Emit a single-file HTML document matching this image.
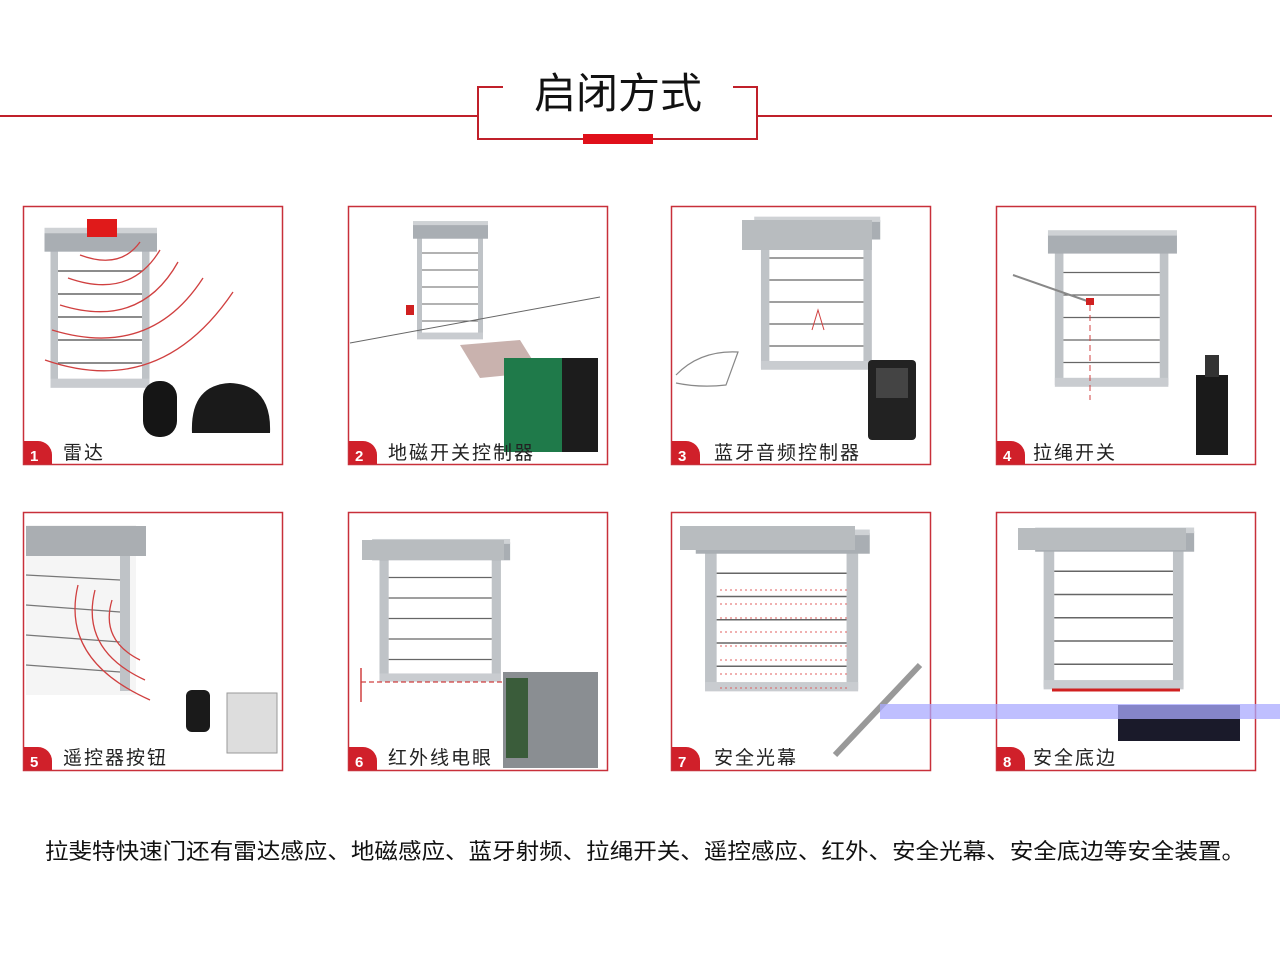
<!DOCTYPE html>
<html><head><meta charset="utf-8"><style>
body{margin:0;background:#fff;width:1280px;height:960px;overflow:hidden;font-family:"Liberation Sans","Noto Sans CJK SC",sans-serif}
</style></head><body>
<svg width="1280" height="960" xmlns="http://www.w3.org/2000/svg" font-family="Liberation Sans, Noto Sans CJK SC, sans-serif">
<defs>
<g id="door">
  <rect x="0" y="0" width="120" height="150" fill="#fff"/>
  <rect x="-6" y="0" width="10" height="150" fill="#bfc3c7"/>
  <rect x="116" y="0" width="10" height="150" fill="#bfc3c7"/>
  <rect x="-14" y="-18" width="150" height="22" fill="#a9aeb3"/>
  <rect x="-14" y="-22" width="150" height="6" fill="#cfd2d5"/>
  <g stroke="#666" stroke-width="1.5">
  <line x1="4" y1="25" x2="116" y2="25"/><line x1="4" y1="50" x2="116" y2="50"/>
  <line x1="4" y1="75" x2="116" y2="75"/><line x1="4" y1="100" x2="116" y2="100"/>
  <line x1="4" y1="125" x2="116" y2="125"/></g>
  <rect x="-6" y="142" width="132" height="10" fill="#c9ccd0"/>
</g>
</defs>
<g stroke="#c0202a" stroke-width="2" fill="none">
<line x1="0" y1="116" x2="478" y2="116"/>
<line x1="757" y1="116" x2="1272" y2="116"/>
<polyline points="503,87 478,87 478,139 757,139 757,87 733,87"/>
</g>
<rect x="583" y="134" width="70" height="10" fill="#e0101a"/>
<text x="618" y="108" font-size="42" text-anchor="middle" fill="#111">启闭方式</text>

<g fill="none" stroke="#c8303a" stroke-width="1.5">
<rect x="23.5" y="206.5" width="259" height="258"/>
<rect x="348.5" y="206.5" width="259" height="258"/>
<rect x="671.5" y="206.5" width="259" height="258"/>
<rect x="996.5" y="206.5" width="259" height="258"/>
<rect x="23.5" y="512.5" width="259" height="258"/>
<rect x="348.5" y="512.5" width="259" height="258"/>
<rect x="671.5" y="512.5" width="259" height="258"/>
<rect x="996.5" y="512.5" width="259" height="258"/>
</g>

<use href="#door" transform="translate(55,248) scale(0.75,0.92)"/>
<rect x="87" y="219" width="30" height="18" fill="#e01a1a"/>
<g stroke="#d04040" stroke-width="1.3" fill="none">
<path d="M80 255 Q120 270 140 242"/><path d="M68 278 Q130 300 160 250"/>
<path d="M60 305 Q140 330 178 262"/><path d="M52 330 Q150 360 203 278"/><path d="M45 360 Q160 400 233 292"/>
</g>
<rect x="143" y="381" width="34" height="56" rx="16" fill="#151515"/>
<path d="M192 433 Q190 385 230 383 Q272 385 270 433 Z" fill="#1a1a1a"/>

<use href="#door" transform="translate(420,236) scale(0.5,0.68)"/>
<line x1="350" y1="343" x2="600" y2="297" stroke="#666" stroke-width="1"/>
<polygon points="460,345 520,340 540,372 480,378" fill="#c9b2ae"/>
<rect x="406" y="305" width="8" height="10" fill="#d02020"/>
<rect x="504" y="358" width="36" height="94" fill="#1f7a4a"/>
<rect x="538" y="358" width="60" height="94" fill="#1c1c1c"/>
<rect x="538" y="358" width="24" height="94" fill="#1f7a4a"/>

<use href="#door" transform="translate(766,236) scale(0.84,0.88)"/>
<rect x="742" y="220" width="130" height="30" fill="#b8bcbf"/>
<rect x="868" y="360" width="48" height="80" rx="4" fill="#222"/>
<rect x="876" y="368" width="32" height="30" fill="#444"/>
<path d="M676 375 Q700 350 738 352 L726 385 Q700 388 676 383" fill="none" stroke="#888" stroke-width="1.2"/>
<path d="M812 330 L818 310 L824 330" stroke="#d04040" fill="none"/>

<use href="#door" transform="translate(1060,250) scale(0.86,0.9)"/>
<line x1="1013" y1="275" x2="1090" y2="302" stroke="#888" stroke-width="2"/>
<rect x="1086" y="298" width="8" height="7" fill="#d02020"/>
<line x1="1090" y1="305" x2="1090" y2="400" stroke="#d04040" stroke-dasharray="6 4"/>
<rect x="1196" y="375" width="32" height="80" fill="#1a1a1a"/>
<rect x="1205" y="355" width="14" height="22" fill="#333"/>

<rect x="26" y="525" width="110" height="170" fill="#f5f5f5"/>
<rect x="26" y="526" width="120" height="30" fill="#aaaeb2"/>
<rect x="120" y="556" width="10" height="135" fill="#bfc3c7"/>
<g stroke="#777" stroke-width="1.3"><line x1="26" y1="575" x2="120" y2="580"/><line x1="26" y1="605" x2="120" y2="612"/><line x1="26" y1="635" x2="120" y2="642"/><line x1="26" y1="665" x2="120" y2="672"/></g>
<g stroke="#d04040" stroke-width="1.3" fill="none">
<path d="M112 600 Q100 640 140 660"/><path d="M95 590 Q80 650 145 680"/><path d="M78 585 Q60 660 150 700"/>
</g>
<rect x="186" y="690" width="24" height="42" rx="6" fill="#1a1a1a"/>
<rect x="227" y="693" width="50" height="60" fill="#ddd" stroke="#999"/>

<use href="#door" transform="translate(385,557) scale(0.92,0.82)"/>
<rect x="362" y="540" width="142" height="20" fill="#b8bcbf"/>
<line x1="361" y1="668" x2="361" y2="702" stroke="#d04040" stroke-width="1.5"/>
<line x1="361" y1="682" x2="520" y2="682" stroke="#d04040" stroke-dasharray="5 3" stroke-width="1.3"/>
<rect x="503" y="672" width="95" height="96" fill="#8a8e92"/>
<rect x="506" y="678" width="22" height="80" fill="#3a5c3a"/>

<use href="#door" transform="translate(712,550) scale(1.16,0.93)"/>
<rect x="680" y="526" width="175" height="24" fill="#b8bcbf"/>
<g stroke="#e06060" stroke-width="1" stroke-dasharray="2 3">
<line x1="720" y1="590" x2="850" y2="590"/><line x1="720" y1="604" x2="850" y2="604"/><line x1="720" y1="618" x2="850" y2="618"/><line x1="720" y1="632" x2="850" y2="632"/><line x1="720" y1="646" x2="850" y2="646"/><line x1="720" y1="660" x2="850" y2="660"/><line x1="720" y1="674" x2="850" y2="674"/><line x1="720" y1="688" x2="850" y2="688"/></g>
<line x1="835" y1="755" x2="920" y2="665" stroke="#999" stroke-width="6"/>

<use href="#door" transform="translate(1050,548) scale(1.06,0.93)"/>
<rect x="1018" y="528" width="168" height="22" fill="#b8bcbf"/>
<line x1="1052" y1="690" x2="1180" y2="690" stroke="#d02020" stroke-width="3"/>
<rect x="1118" y="705" width="122" height="36" fill="#1a1a2a"/>

<rect x="880" y="704" width="400" height="15" fill="#aaaaff" opacity="0.75"/>

<g fill="#d0202a">
<path d="M24 441 H38 A14 14 0 0 1 52 455 V464 H24Z"/>
<path d="M349 441 H363 A14 14 0 0 1 377 455 V464 H349Z"/>
<path d="M672 441 H686 A14 14 0 0 1 700 455 V464 H672Z"/>
<path d="M997 441 H1011 A14 14 0 0 1 1025 455 V464 H997Z"/>
<path d="M24 747 H38 A14 14 0 0 1 52 761 V770 H24Z"/>
<path d="M349 747 H363 A14 14 0 0 1 377 761 V770 H349Z"/>
<path d="M672 747 H686 A14 14 0 0 1 700 761 V770 H672Z"/>
<path d="M997 747 H1011 A14 14 0 0 1 1025 761 V770 H997Z"/>
</g>
<g fill="#fff" font-size="15" font-weight="bold">
<text x="30" y="461">1</text><text x="355" y="461">2</text><text x="678" y="461">3</text><text x="1003" y="461">4</text>
<text x="30" y="767">5</text><text x="355" y="767">6</text><text x="678" y="767">7</text><text x="1003" y="767">8</text>
</g>
<g fill="#222" font-size="19" letter-spacing="2">
<text x="63" y="459">雷达</text>
<text x="388" y="459">地磁开关控制器</text>
<text x="714" y="459">蓝牙音频控制器</text>
<text x="1033" y="459">拉绳开关</text>
<text x="63" y="764">遥控器按钮</text>
<text x="388" y="764">红外线电眼</text>
<text x="714" y="764">安全光幕</text>
<text x="1033" y="764">安全底边</text>
</g>
<text x="45" y="859" font-size="22" fill="#111" textLength="1200" lengthAdjust="spacingAndGlyphs">拉斐特快速门还有雷达感应、地磁感应、蓝牙射频、拉绳开关、遥控感应、红外、安全光幕、安全底边等安全装置。</text>
</svg>
</body></html>
